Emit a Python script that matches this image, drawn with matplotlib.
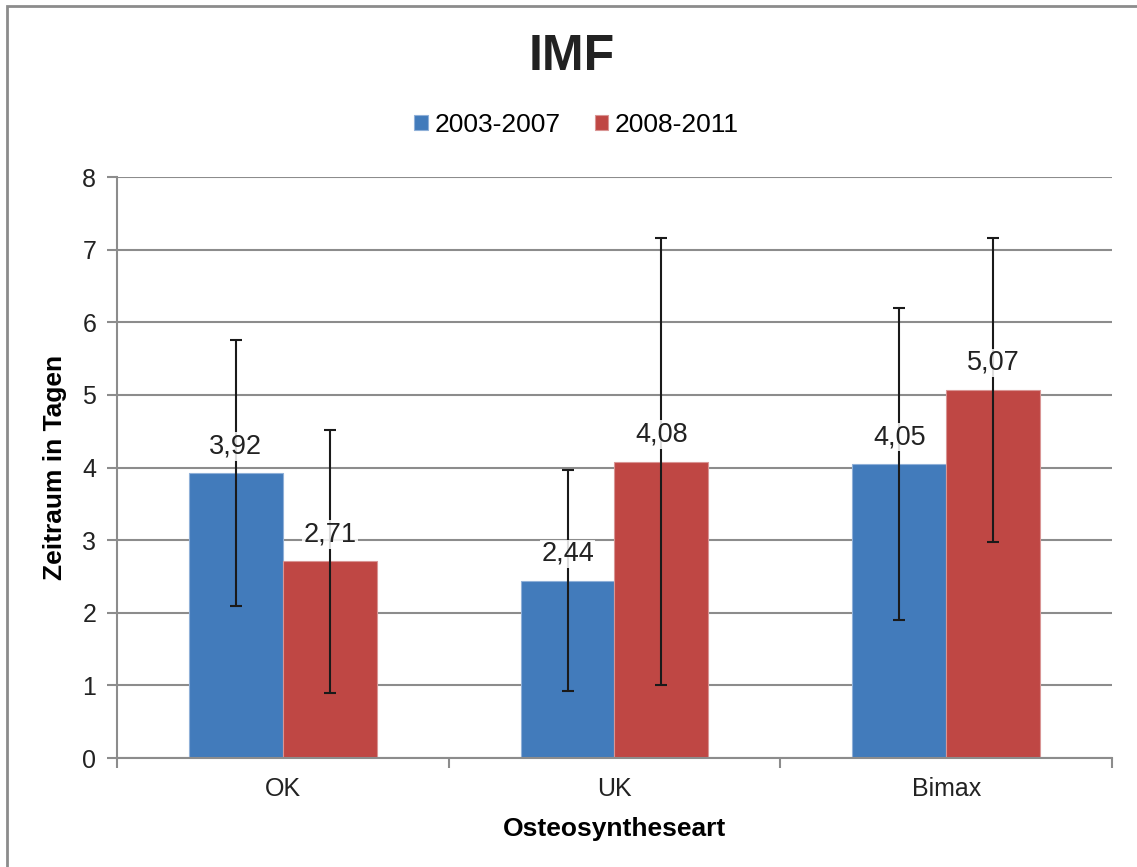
import matplotlib.pyplot as plt
import matplotlib.patches as mpatches
import numpy as np

plt.rcParams['font.family'] = ['Liberation Sans', 'DejaVu Sans']

categories = ['OK', 'UK', 'Bimax']
series = ['2003-2007', '2008-2011']
means_0307 = [3.92, 2.44, 4.05]
means_0811 = [2.71, 4.08, 5.07]
err_0307 = [1.83, 1.52, 2.15]
err_0811 = [1.81, 3.08, 2.09]
labels_0307 = ['3,92', '2,44', '4,05']
labels_0811 = ['2,71', '4,08', '5,07']

blue = '#427BBB'
red = '#BF4744'
gray = '#8C8C8C'

fig = plt.figure(figsize=(11.37, 8.67), dpi=100)
ax = fig.add_axes([0.1029, 0.1257, 0.8751, 0.6701])

# border round the whole chart
fig.patches.append(mpatches.Rectangle((0.0065, -0.01), 1.0, 1.003, transform=fig.transFigure,
                                      fill=False, edgecolor=gray, linewidth=2))

x = np.arange(len(categories))
w = 0.283
b1 = ax.bar(x - w / 2, means_0307, w, color=blue, edgecolor='#8FB0D8', linewidth=0.8,
            label=series[0], zorder=2)
b2 = ax.bar(x + w / 2, means_0811, w, color=red, edgecolor='#D99594', linewidth=0.8,
            label=series[1], zorder=2)
ax.errorbar(x - w / 2, means_0307, yerr=err_0307, fmt='none', ecolor='#1a1a1a',
            elinewidth=1.5, capsize=4.5, capthick=1.5, zorder=3)
ax.errorbar(x + w / 2, means_0811, yerr=err_0811, fmt='none', ecolor='#1a1a1a',
            elinewidth=1.5, capsize=4.5, capthick=1.5, zorder=3)

for bars, labs in ((b1, labels_0307), (b2, labels_0811)):
    for bar, lab in zip(bars, labs):
        ax.annotate(lab, (bar.get_x() + bar.get_width() / 2, bar.get_height()),
                    xytext=(0, 10), textcoords='offset points', ha='center', va='bottom',
                    fontsize=19.5, color='#222222', zorder=4,
                    bbox=dict(boxstyle='square,pad=0.05', facecolor='white',
                              edgecolor='none', alpha=0.85))

ax.set_xlim(-0.5, 2.5)
ax.set_ylim(0, 8)
ax.set_yticks(range(0, 9))
ax.set_xticks(x)
ax.set_xticklabels(categories)
ax.set_xticks([-0.5, 0.5, 1.5, 2.5], minor=True)
ax.tick_params(axis='x', which='major', length=0, labelsize=18, pad=14, colors='#222222')
ax.tick_params(axis='x', which='minor', length=7, width=1.5, color=gray, direction='out')
ax.tick_params(axis='y', length=7, width=1.5, color=gray, labelsize=18, pad=8,
               labelcolor='#222222')
ax.yaxis.grid(True, color=gray, linewidth=1.5, zorder=0)
ax.set_axisbelow(True)
for side in ('top', 'right'):
    ax.spines[side].set_visible(False)
for side in ('left', 'bottom'):
    ax.spines[side].set_color(gray)
    ax.spines[side].set_linewidth(1.5)

ax.set_ylabel('Zeitraum in Tagen', fontsize=19, fontweight='bold', labelpad=11)
ax.set_xlabel('Osteosyntheseart', fontsize=19, fontweight='bold', labelpad=11)

fig.text(0.503, 0.934, 'IMF', ha='center', va='center', fontsize=36, fontweight='bold',
         color='#222222')
fig.legend(handles=[b1, b2], loc='center', bbox_to_anchor=(0.507, 0.856), ncol=2,
           frameon=False, fontsize=19, handlelength=0.5, handleheight=0.5,
           handletextpad=0.25, columnspacing=1.3)

plt.savefig('out.png', dpi=100)
